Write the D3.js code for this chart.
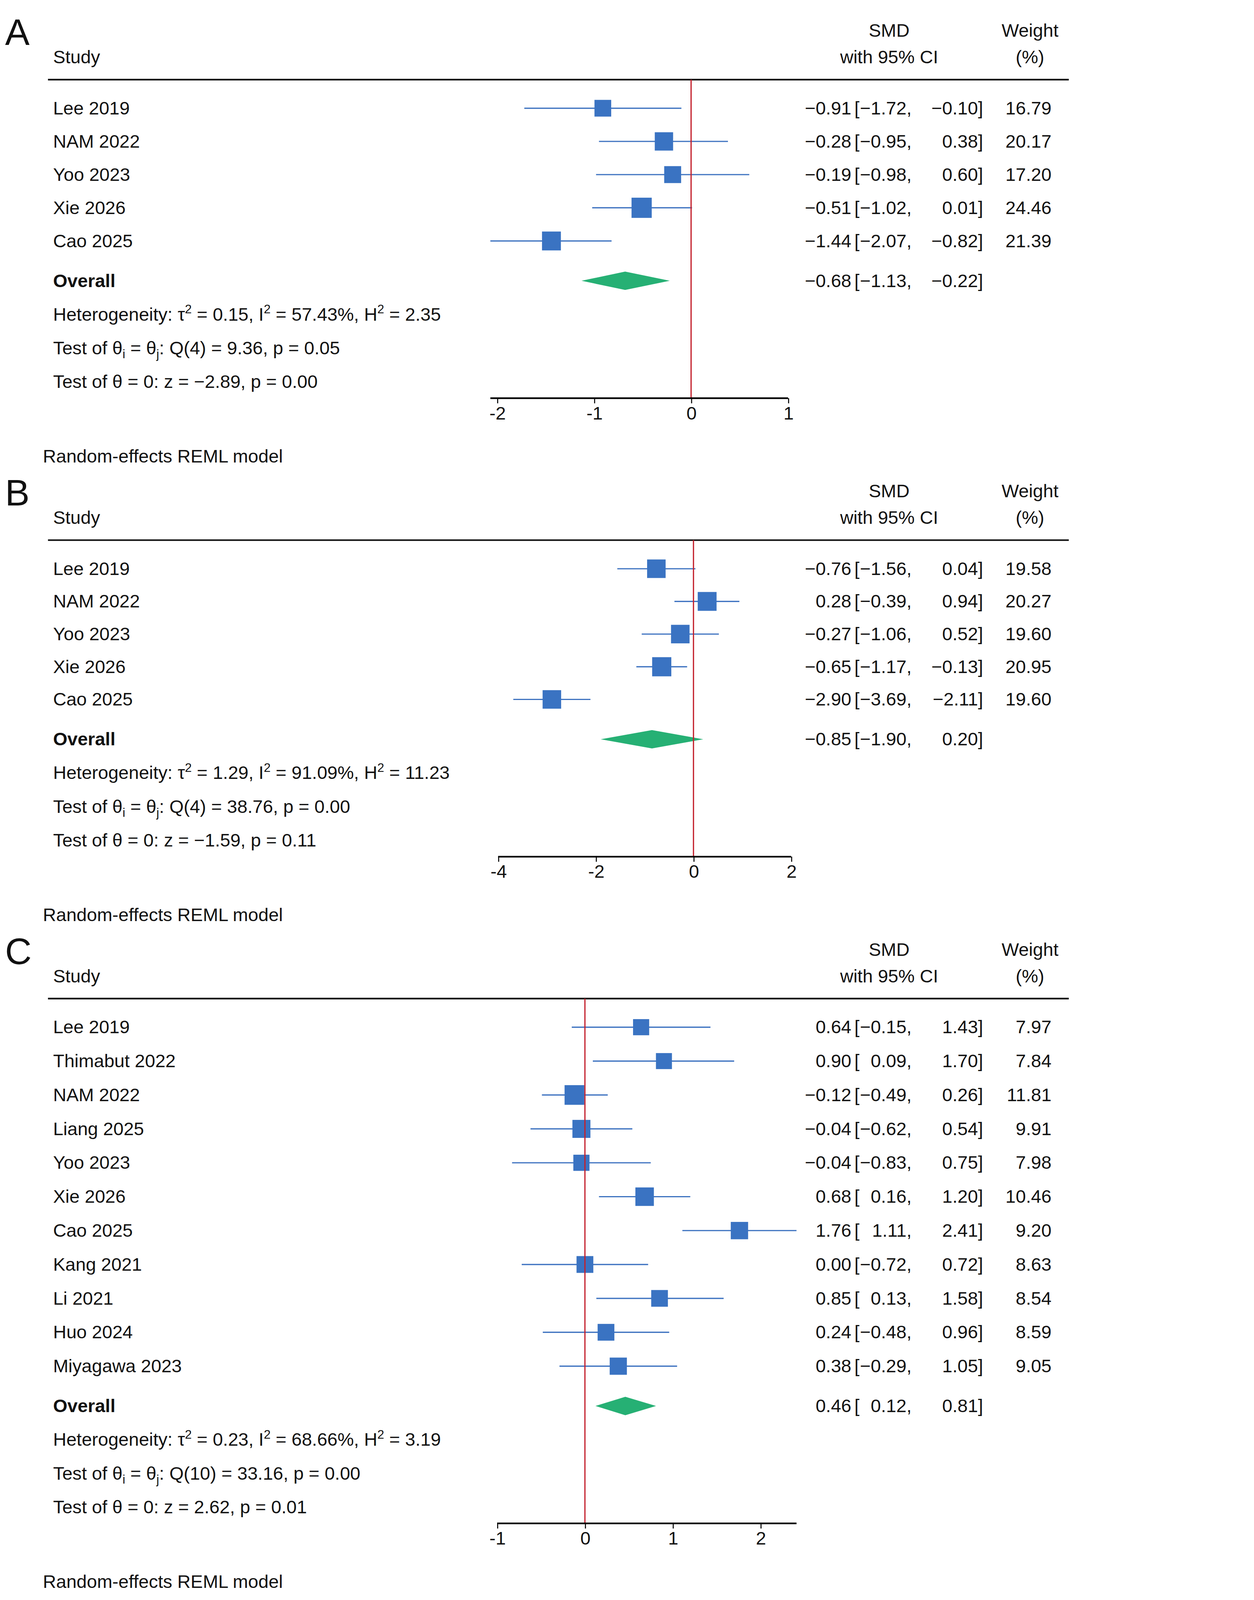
<!DOCTYPE html>
<html><head><meta charset="utf-8">
<script src="https://cdn.jsdelivr.net/npm/d3@7"></script>
<style>html,body{margin:0;padding:0;background:#fff;overflow:hidden}#chart{display:block;width:100vw;height:100vh}text{font-family:"Liberation Sans",Arial,sans-serif;fill:#111}</style>
</head><body>
<svg id="chart" viewBox="0 0 1058 1567" preserveAspectRatio="xMinYMin meet"></svg>
<script>
// panel A
var studiesA = ["Lee 2019", "NAM 2022", "Yoo 2023", "Xie 2026", "Cao 2025"];
var estA = [-0.91, -0.28, -0.19, -0.51, -1.44];
var lowA = [-1.72, -0.95, -0.98, -1.02, -2.07];
var upA = [-0.10, 0.38, 0.60, 0.01, -0.82];
var wA = [16.79, 20.17, 17.20, 24.46, 21.39];
var overallA = [-0.68, -1.13, -0.22];
var ticksA = [-2, -1, 0, 1];
var statsA = ["0.15", "57.43%", "2.35", "4", "9.36", "0.05", "\u22122.89", "0.00"];

// panel B
var studiesB = ["Lee 2019", "NAM 2022", "Yoo 2023", "Xie 2026", "Cao 2025"];
var estB = [-0.76, 0.28, -0.27, -0.65, -2.90];
var lowB = [-1.56, -0.39, -1.06, -1.17, -3.69];
var upB = [0.04, 0.94, 0.52, -0.13, -2.11];
var wB = [19.58, 20.27, 19.60, 20.95, 19.60];
var overallB = [-0.85, -1.90, 0.20];
var ticksB = [-4, -2, 0, 2];
var statsB = ["1.29", "91.09%", "11.23", "4", "38.76", "0.00", "\u22121.59", "0.11"];

// panel C
var studiesC = ["Lee 2019", "Thimabut 2022", "NAM 2022", "Liang 2025", "Yoo 2023", "Xie 2026",
  "Cao 2025", "Kang 2021", "Li 2021", "Huo 2024", "Miyagawa 2023"];
var estC = [0.64, 0.90, -0.12, -0.04, -0.04, 0.68, 1.76, 0.00, 0.85, 0.24, 0.38];
var lowC = [-0.15, 0.09, -0.49, -0.62, -0.83, 0.16, 1.11, -0.72, 0.13, -0.48, -0.29];
var upC = [1.43, 1.70, 0.26, 0.54, 0.75, 1.20, 2.41, 0.72, 1.58, 0.96, 1.05];
var wC = [7.97, 7.84, 11.81, 9.91, 7.98, 10.46, 9.20, 8.63, 8.54, 8.59, 9.05];
var overallC = [0.46, 0.12, 0.81];
var ticksC = [-1, 0, 1, 2];
var statsC = ["0.23", "68.66%", "3.19", "10", "33.16", "0.00", "2.62", "0.01"];

var svg = d3.select("#chart");
var fs = 18;
var fmt = function(v) { return d3.format(".2f")(v).replace("-", "\u2212"); };

function panel(p) {
  var g = svg.append("g");
  var top = p.top;
  g.append("text").attr("x", 5).attr("y", top + 8).attr("font-size", 36).text(p.letter);
  g.append("text").attr("x", 871).attr("y", top).attr("text-anchor", "middle").attr("font-size", fs).text("SMD");
  g.append("text").attr("x", 871).attr("y", top + 26).attr("text-anchor", "middle").attr("font-size", fs).text("with 95% CI");
  g.append("text").attr("x", 1009).attr("y", top).attr("text-anchor", "middle").attr("font-size", fs).text("Weight");
  g.append("text").attr("x", 1009).attr("y", top + 26).attr("text-anchor", "middle").attr("font-size", fs).text("(%)");
  g.append("text").attr("x", 52).attr("y", top + 26).attr("font-size", fs).text("Study");
  var lineY = top + 42;
  g.append("line").attr("x1", 47).attr("x2", 1047).attr("y1", lineY).attr("y2", lineY)
    .attr("stroke", "#111").attr("stroke-width", 1.6);

  var n = p.studies.length;
  var y = d3.scaleLinear().domain([0, n - 1]).range([lineY + 28, lineY + 28 + (n - 1) * p.step]);
  var yOver = y(n - 1) + 39;
  var dom = [Math.min(d3.min(p.low), p.ticks[0]), Math.max(d3.max(p.up), p.ticks[p.ticks.length - 1])];
  var x = d3.scaleLinear().domain([p.ticks[0], p.ticks[p.ticks.length - 1]]).range(p.xr);
  var axisY = yOver + 115;

  var idx = d3.range(n);
  g.selectAll(".ci").data(idx).join("line")
    .attr("x1", function(i) { return x(p.low[i]); }).attr("x2", function(i) { return x(p.up[i]); })
    .attr("y1", function(i) { return y(i); }).attr("y2", function(i) { return y(i); })
    .attr("stroke", "#3d72c0").attr("stroke-width", 1.2);
  g.selectAll(".box").data(idx).join("rect")
    .attr("x", function(i) { return x(p.est[i]) - p.k * Math.sqrt(p.w[i]) / 2; })
    .attr("y", function(i) { return y(i) - p.k * Math.sqrt(p.w[i]) / 2; })
    .attr("width", function(i) { return p.k * Math.sqrt(p.w[i]); })
    .attr("height", function(i) { return p.k * Math.sqrt(p.w[i]); })
    .attr("fill", "#3a73c2");
  var o = p.overall;
  g.append("path").attr("d", "M" + x(o[1]) + "," + yOver + "L" + x(o[0]) + "," + (yOver - 9) +
    "L" + x(o[2]) + "," + yOver + "L" + x(o[0]) + "," + (yOver + 9) + "Z").attr("fill", "#26b074");

  g.append("line").attr("x1", x(0)).attr("x2", x(0)).attr("y1", lineY).attr("y2", axisY)
    .attr("stroke", "#c3202c").attr("stroke-width", 1.2);

  var ax = g.append("g").attr("transform", "translate(0," + axisY + ")")
    .call(d3.axisBottom(x).tickValues(p.ticks).tickSize(5).tickPadding(3).tickFormat(d3.format("d")));
  ax.select(".domain").attr("d", "M" + x(dom[0]) + ",0H" + x(dom[1])).attr("stroke-width", 1.6);
  ax.selectAll("text").attr("font-size", fs).attr("font-family", "Liberation Sans, Arial, sans-serif").attr("fill", "#111");
  ax.selectAll(".tick text").text(function(d) { return String(d); });

  function row(yy, name, e, lo, hi, w, bold) {
    g.append("text").attr("x", 52).attr("y", yy + 6).attr("font-size", fs)
      .attr("font-weight", bold ? "bold" : null).text(name);
    g.append("text").attr("x", 834).attr("y", yy + 6).attr("text-anchor", "end").attr("font-size", fs).text(fmt(e));
    g.append("text").attr("x", 837).attr("y", yy + 6).attr("font-size", fs).text("[");
    g.append("text").attr("x", 893).attr("y", yy + 6).attr("text-anchor", "end").attr("font-size", fs).text(fmt(lo) + ",");
    g.append("text").attr("x", 958).attr("y", yy + 6).attr("text-anchor", "end").attr("font-size", fs).text(fmt(hi));
    g.append("text").attr("x", 958).attr("y", yy + 6).attr("font-size", fs).text("]");
    if (w !== null) g.append("text").attr("x", 1030).attr("y", yy + 6).attr("text-anchor", "end").attr("font-size", fs).text(d3.format(".2f")(w));
  }
  idx.forEach(function(i) { row(y(i), p.studies[i], p.est[i], p.low[i], p.up[i], p.w[i], false); });
  row(yOver, "Overall", o[0], o[1], o[2], null, true);

  var s = p.stats;
  var t1 = g.append("text").attr("x", 52).attr("y", yOver + 39).attr("font-size", fs);
  t1.append("tspan").text("Heterogeneity: \u03c4");
  t1.append("tspan").attr("dy", -7).attr("font-size", 12).text("2");
  t1.append("tspan").attr("dy", 7).text(" = " + s[0] + ", I");
  t1.append("tspan").attr("dy", -7).attr("font-size", 12).text("2");
  t1.append("tspan").attr("dy", 7).text(" = " + s[1] + ", H");
  t1.append("tspan").attr("dy", -7).attr("font-size", 12).text("2");
  t1.append("tspan").attr("dy", 7).text(" = " + s[2]);
  var t2 = g.append("text").attr("x", 52).attr("y", yOver + 72).attr("font-size", fs);
  t2.append("tspan").text("Test of \u03b8");
  t2.append("tspan").attr("dy", 4).attr("font-size", 12).text("i");
  t2.append("tspan").attr("dy", -4).text(" = \u03b8");
  t2.append("tspan").attr("dy", 4).attr("font-size", 12).text("j");
  t2.append("tspan").attr("dy", -4).text(": Q(" + s[3] + ") = " + s[4] + ", p = " + s[5]);
  g.append("text").attr("x", 52).attr("y", yOver + 105).attr("font-size", fs)
    .text("Test of \u03b8 = 0: z = " + s[6] + ", p = " + s[7]);
  g.append("text").attr("x", 42).attr("y", axisY + 63).attr("font-size", fs).text("Random-effects REML model");
}

panel({letter: "A", top: 36, studies: studiesA, est: estA, low: lowA, up: upA, w: wA, overall: overallA,
  ticks: ticksA, stats: statsA, xr: [487, 772], step: 32.5, k: 4.0});
panel({letter: "B", top: 487, studies: studiesB, est: estB, low: lowB, up: upB, w: wB, overall: overallB,
  ticks: ticksB, stats: statsB, xr: [488, 775], step: 32, k: 4.1});
panel({letter: "C", top: 936, studies: studiesC, est: estC, low: lowC, up: upC, w: wC, overall: overallC,
  ticks: ticksC, stats: statsC, xr: [487, 745], step: 33.2, k: 5.6});
</script>
</body></html>
